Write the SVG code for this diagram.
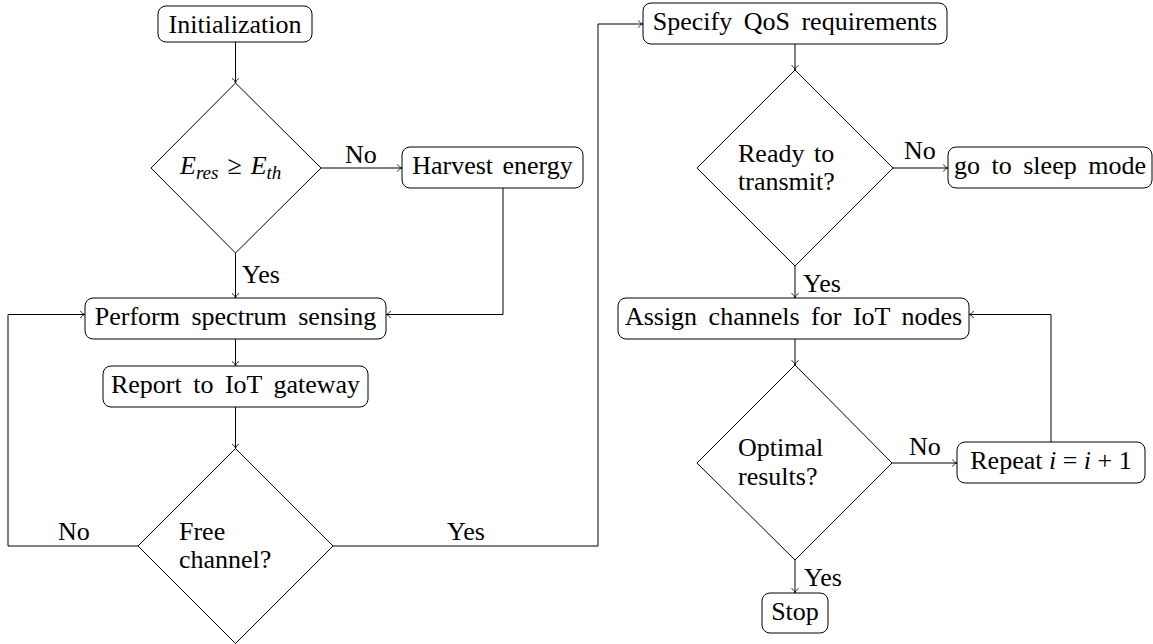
<svg xmlns="http://www.w3.org/2000/svg" width="1153" height="644" viewBox="0 0 1153 644">
<defs>
<style>
text{font-family:'Liberation Serif','DejaVu Serif',serif;font-size:26px;fill:#000}
.t{word-spacing:3px}
.w{word-spacing:5px}
.it{font-style:italic}
.sub{font-size:19px;font-style:italic}
.box{fill:#fff;stroke:#000;stroke-width:1}
.dia{fill:#fff;stroke:#000;stroke-width:1}
.c{fill:none;stroke:#000;stroke-width:1}
</style>
<marker id="arr" viewBox="-6 -5 7 10" refX="0" refY="0" markerWidth="7" markerHeight="10" orient="auto" markerUnits="userSpaceOnUse">
<path d="M-4.5,-3.5 C-3.5,-1.5 -1.5,-0.3 0,0 C-1.5,0.3 -3.5,1.5 -4.5,3.5" fill="none" stroke="#000" stroke-width="0.9"/>
</marker>
</defs>
<rect width="1153" height="644" fill="#fff"/>

<g id="connectors">
<path class="c" marker-end="url(#arr)" d="M235.5,42 V83"/>
<path class="c" marker-end="url(#arr)" d="M321,168 H402"/>
<path class="c" marker-end="url(#arr)" d="M235.5,253 V298"/>
<path class="c" marker-end="url(#arr)" d="M503,188 V314.5 H386"/>
<path class="c" marker-end="url(#arr)" d="M235.5,339 V366"/>
<path class="c" marker-end="url(#arr)" d="M235.5,407 V448.5"/>
<path class="c" marker-end="url(#arr)" d="M138,546 H8 V314.5 H85"/>
<path class="c" marker-end="url(#arr)" d="M333,546 H598 V24 H643"/>
<path class="c" marker-end="url(#arr)" d="M795,44 V70"/>
<path class="c" marker-end="url(#arr)" d="M893,168 H948"/>
<path class="c" marker-end="url(#arr)" d="M795,266 V298"/>
<path class="c" marker-end="url(#arr)" d="M795,339 V365"/>
<path class="c" marker-end="url(#arr)" d="M892,463 H957"/>
<path class="c" marker-end="url(#arr)" d="M1051,442 V314.5 H969"/>
<path class="c" marker-end="url(#arr)" d="M795,560 V593"/>
<text x="345" y="163">No</text>
<text x="242" y="283">Yes</text>
<text x="58" y="540">No</text>
<text x="447" y="540">Yes</text>
<text x="904" y="159">No</text>
<text x="803" y="292">Yes</text>
<text x="909" y="455">No</text>
<text x="804" y="586">Yes</text>
</g>

<g id="n-init">
<rect class="box" x="158" y="6" width="154" height="36" rx="8"/>
<text x="235" y="33" text-anchor="middle">Initialization</text>
</g>

<g id="n-energy-check">
<polygon class="dia" points="235.5,83 321,168 235.5,253 151,168"/>
<text x="180" y="174"><tspan class="it">E</tspan><tspan class="sub" dy="5">res</tspan><tspan dy="-5" dx="9">≥</tspan><tspan class="it" dx="9">E</tspan><tspan class="sub" dy="5">th</tspan></text>
</g>

<g id="n-harvest">
<rect class="box" x="402" y="147" width="181" height="41" rx="8"/>
<text class="t" x="492.5" y="174" text-anchor="middle">Harvest energy</text>
</g>

<g id="n-sensing">
<rect class="box" x="85" y="298" width="301" height="41" rx="8"/>
<text class="w" x="235.5" y="325" text-anchor="middle">Perform spectrum sensing</text>
</g>

<g id="n-report">
<rect class="box" x="103" y="366" width="265" height="41" rx="8"/>
<text class="w" x="235.5" y="393" text-anchor="middle">Report to IoT gateway</text>
</g>

<g id="n-free">
<polygon class="dia" points="235.5,448.5 333,546 235.5,643.5 138,546"/>
<text x="179" y="540">Free</text>
<text x="179" y="568">channel?</text>
</g>

<g id="n-qos">
<rect class="box" x="643" y="3" width="304" height="41" rx="8"/>
<text class="w" x="795" y="30" text-anchor="middle">Specify QoS requirements</text>
</g>

<g id="n-ready">
<polygon class="dia" points="795,70 893,168 795,266 697,168"/>
<text class="t" x="738" y="162">Ready to</text>
<text x="738" y="190">transmit?</text>
</g>

<g id="n-sleep">
<rect class="box" x="948" y="147" width="204" height="41" rx="8"/>
<text class="w" x="1050" y="174" text-anchor="middle">go to sleep mode</text>
</g>

<g id="n-assign">
<rect class="box" x="618" y="298" width="351" height="41" rx="8"/>
<text class="w" x="793.5" y="325" text-anchor="middle">Assign channels for IoT nodes</text>
</g>

<g id="n-optimal">
<polygon class="dia" points="795,365 892,463 795,560 697,463"/>
<text x="738" y="456">Optimal</text>
<text x="738" y="485">results?</text>
</g>

<g id="n-repeat">
<rect class="box" x="957" y="442" width="188" height="41" rx="8"/>
<text x="1051" y="469" text-anchor="middle">Repeat <tspan class="it">i</tspan> = <tspan class="it">i</tspan> + 1</text>
</g>

<g id="n-stop">
<rect class="box" x="762" y="593" width="66" height="40" rx="8"/>
<text x="795" y="620" text-anchor="middle">Stop</text>
</g>
</svg>
